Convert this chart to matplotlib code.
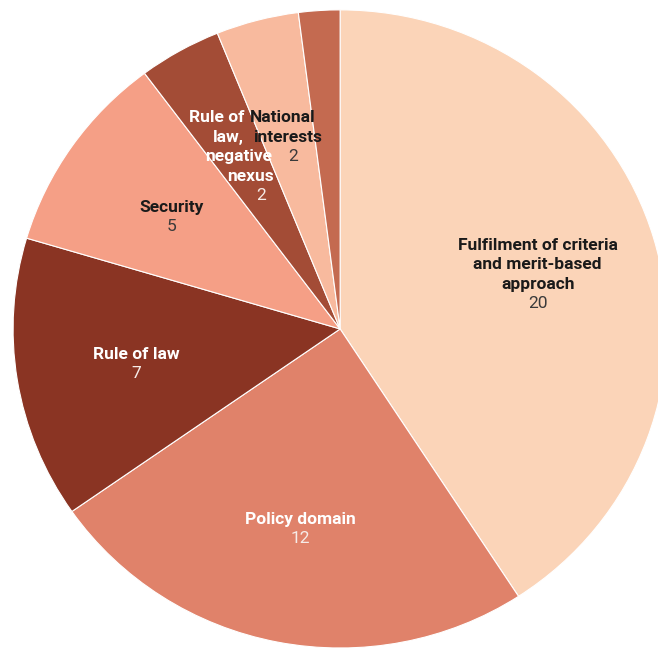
import matplotlib.pyplot as plt
import numpy as np

# Reasons given, counted per category
categories = [
    "Fulfilment of criteria\nand merit-based\napproach",
    "Policy domain",
    "Rule of law",
    "Security",
    "Rule of\nlaw,\nnegative\nnexus",
    "National\ninterests",
    "Other",
]
counts = [20, 12, 7, 5, 2, 2, 1]
show_label = [True, True, True, True, True, True, False]

colors = ["#FBD4B8", "#E0826A", "#8A3423", "#F59F86", "#A34C36", "#F8BA9E", "#C46A50"]
text_colors = ["#1a1a1a", "white", "white", "#1a1a1a", "white", "#1a1a1a", "white"]
# horizontal drift of each successive line (points), used in the narrow slices
line_drift = [0, 0, 0, 0, 8, 4, 0]

plt.rcParams["font.family"] = ["Roboto", "DejaVu Sans"]

fig = plt.figure(figsize=(6.58, 6.48), dpi=100)
ax = fig.add_axes([0, 0, 1, 1])

wedges, _ = ax.pie(
    counts,
    startangle=90,
    counterclock=False,
    colors=colors,
    radius=1.0,
    wedgeprops=dict(edgecolor="white", linewidth=0.8),
)

fs = 12.5
lh = 14.0  # line height in points
for w, name, n, show, tc, drift in zip(wedges, categories, counts, show_label,
                                       text_colors, line_drift):
    if not show:
        continue
    mid = np.deg2rad((w.theta1 + w.theta2) / 2)
    x, y = 0.63 * np.cos(mid), 0.63 * np.sin(mid)
    lines = name.split("\n") + [str(n)]
    k = len(lines)
    val_color = "#3a3a3a" if tc != "white" else "#f6ece8"
    for i, line in enumerate(lines):
        is_value = i == k - 1
        dx = (i - (k - 1) / 2) * drift
        dy = ((k - 1) / 2 - i) * lh - 2
        ax.annotate(line, (x, y), xytext=(dx, dy), textcoords="offset points",
                    ha="center", va="center", fontsize=fs,
                    fontweight="normal" if is_value else "bold",
                    color=val_color if is_value else tc)

ax.set_xlim(-1.040, 0.972)
ax.set_ylim(-1.0, 1.031)
ax.set_aspect("auto")
ax.axis("off")

fig.savefig("out.png", dpi=100, facecolor="white")
